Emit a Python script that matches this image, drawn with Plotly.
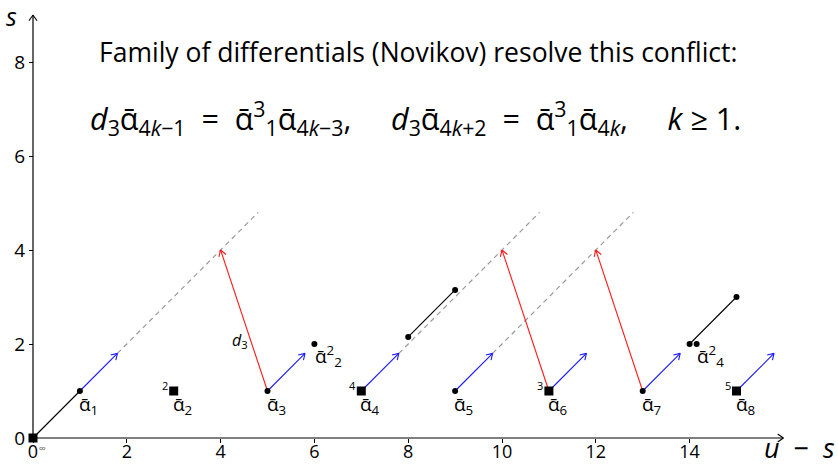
import math
import plotly.graph_objects as go

# ---------------- data ----------------
alpha_x = [1, 3, 5, 7, 9, 11, 13, 15]
alpha_s = [1, 1, 1, 1, 1, 1, 1, 1]
alpha_kind = ["dot", "square", "dot", "square", "dot", "square", "dot", "square"]
alpha_mult = ["", "2", "", "4", "", "3", "", "5"]
alpha_names = ["1", "2", "3", "4", "5", "6", "7", "8"]

origin_x, origin_s = [0], [0]

extra_x = [6, 8, 9, 14, 14.15, 15]
extra_s = [2, 2.15, 3.15, 2, 2, 3]

black_from_x = [0, 8, 14]
black_from_s = [0, 2.15, 2]
black_to_x = [1, 9, 15]
black_to_s = [1, 3.15, 3]

blue_from_x = [1, 5, 7, 9, 11, 13, 15]
blue_from_s = [1, 1, 1, 1, 1, 1, 1]
blue_to_x = [1.8, 5.8, 7.8, 9.8, 11.8, 13.8, 15.8]
blue_to_s = [1.8, 1.8, 1.8, 1.8, 1.8, 1.8, 1.8]

red_from_x = [5, 11, 13]
red_from_s = [1, 1, 1]
red_to_x = [4, 10, 12]
red_to_s = [4, 4, 4]

dash_from_x = [1.8, 7.8, 9.8]
dash_from_s = [1.8, 1.8, 1.8]
dash_to_x = [4.8, 10.8, 12.8]
dash_to_s = [4.8, 4.8, 4.8]

x_ticks = [0, 2, 4, 6, 8, 10, 12, 14]
y_ticks = [0, 2, 4, 6, 8]
x_axis_end = 16
y_axis_end = 9

# ---------------- layout geometry ----------------
W, H = 838, 465
PX_X, PX_Y = 46.9, 47.0
X0_PX, Y0_PX = 33, 438
x_range = [-X0_PX / PX_X, (W - X0_PX) / PX_X]
y_range = [-(H - Y0_PX) / PX_Y, Y0_PX / PX_Y]

FONT = "'Open Sans', 'Noto Sans', 'DejaVu Sans', sans-serif"
ABAR = "ᾱ"

fig = go.Figure()


def seg_trace(fx, fs, tx, ts, color, dash="solid", width=1.1):
    xs, ys = [], []
    for a, b, c, d in zip(fx, fs, tx, ts):
        xs += [a, c, None]
        ys += [b, d, None]
    fig.add_trace(go.Scatter(x=xs, y=ys, mode="lines", hoverinfo="skip",
                             line=dict(color=color, width=width, dash=dash),
                             showlegend=False))


def heads_trace(fx, fs, tx, ts, color, L=7.0, ang=32, width=1.1):
    xs, ys = [], []
    for a, b, c, d in zip(fx, fs, tx, ts):
        dxp = (c - a) * PX_X
        dyp = (d - b) * PX_Y
        th = math.atan2(dyp, dxp)
        for sgn in (1, -1):
            t2 = th + math.pi - sgn * math.radians(ang)
            xs += [c + L * math.cos(t2) / PX_X, c, None]
            ys += [d + L * math.sin(t2) / PX_Y, d, None]
    fig.add_trace(go.Scatter(x=xs, y=ys, mode="lines", hoverinfo="skip",
                             line=dict(color=color, width=width),
                             showlegend=False))


# axes
seg_trace([0, 0], [0, 0], [x_axis_end, 0], [0, y_axis_end], "black", width=1.2)
heads_trace([0, 0], [0, 0], [x_axis_end, 0], [0, y_axis_end], "black", L=7, ang=35)

# dashed lines
seg_trace(dash_from_x, dash_from_s, dash_to_x, dash_to_s, "#999999", dash="5px,4px", width=1.2)
# black lines
seg_trace(black_from_x, black_from_s, black_to_x, black_to_s, "black", width=1.1)
# blue arrows
seg_trace(blue_from_x, blue_from_s, blue_to_x, blue_to_s, "#1a1aff", width=1.1)
heads_trace(blue_from_x, blue_from_s, blue_to_x, blue_to_s, "#1a1aff")
# red arrows
seg_trace(red_from_x, red_from_s, red_to_x, red_to_s, "#ff1a1a", width=1.1)
heads_trace(red_from_x, red_from_s, red_to_x, red_to_s, "#ff1a1a")

# markers
dots_x = [x for x, k in zip(alpha_x, alpha_kind) if k == "dot"] + extra_x
dots_s = [s for s, k in zip(alpha_s, alpha_kind) if k == "dot"] + extra_s
sq_x = [x for x, k in zip(alpha_x, alpha_kind) if k == "square"] + origin_x
sq_s = [s for s, k in zip(alpha_s, alpha_kind) if k == "square"] + origin_s
fig.add_trace(go.Scatter(x=dots_x, y=dots_s, mode="markers", hoverinfo="skip",
                         marker=dict(symbol="circle", size=6, color="black"),
                         showlegend=False, cliponaxis=False))
fig.add_trace(go.Scatter(x=sq_x, y=sq_s, mode="markers", hoverinfo="skip",
                         marker=dict(symbol="square", size=9, color="black"),
                         showlegend=False, cliponaxis=False))

ann = []
# class labels
for x, s, n, m in zip(alpha_x, alpha_s, alpha_names, alpha_mult):
    ann.append(dict(x=x - 0.06, y=s + 0.05, xanchor="left", yanchor="top",
                    text="%s<sub>%s</sub>" % (ABAR, n), showarrow=False,
                    font=dict(family=FONT, size=19, color="black")))
    if m:
        ann.append(dict(x=x - 0.19, y=s + 0.11, xanchor="center", yanchor="middle",
                        text=m, showarrow=False,
                        font=dict(family=FONT, size=11, color="black")))
# alpha_2^2 and alpha_4^2
for x, s, n in [(6, 2, "2"), (14.15, 2, "4")]:
    ann.append(dict(x=x - 0.03, y=s + 0.1, xanchor="left", yanchor="top",
                    text="%s<sup>2</sup><sub>%s</sub>" % (ABAR, n), showarrow=False,
                    font=dict(family=FONT, size=19, color="black")))
# infinity
ann.append(dict(x=0.08, y=-0.03, xanchor="left", yanchor="top", text="∞",
                showarrow=False, font=dict(family=FONT, size=10, color="#555")))
# d3 label
ann.append(dict(x=4.42, y=2.08, xanchor="center", yanchor="middle",
                text="<i>d</i><sub>3</sub>", showarrow=False,
                font=dict(family=FONT, size=16, color="black")))
# axis labels
ann.append(dict(x=-0.45, y=8.97, xanchor="center", yanchor="middle",
                text="<i>s</i>", showarrow=False,
                font=dict(family=FONT, size=25, color="black")))
ann.append(dict(x=17.14, y=-0.2, xanchor="right", yanchor="middle",
                text="<i>u</i>  −  <i>s</i>", showarrow=False,
                font=dict(family=FONT, size=27, color="black")))
# text
ann.append(dict(x=1.36, y=8.22, xanchor="left", yanchor="middle",
                text="Family of differentials (Novikov) resolve this conflict:",
                showarrow=False, font=dict(family=FONT, size=26.5, color="black")))
ann.append(dict(x=1.17, y=6.8, xanchor="left", yanchor="middle",
                text=("<i>d</i><sub>3</sub>%s<sub>4<i>k</i>−1</sub>  =  "
                      "%s<sup>3</sup><sub>1</sub>%s<sub>4<i>k</i>−3</sub>,     "
                      "<i>d</i><sub>3</sub>%s<sub>4<i>k</i>+2</sub>  =  "
                      "%s<sup>3</sup><sub>1</sub>%s<sub>4<i>k</i></sub>,     "
                      "<i>k</i> ≥ 1.") % ((ABAR,) * 6),
                showarrow=False, font=dict(family=FONT, size=30.5, color="black")))

fig.update_layout(
    width=W, height=H, margin=dict(l=0, r=0, t=0, b=0, autoexpand=False),
    paper_bgcolor="white", plot_bgcolor="white",
    annotations=ann,
    xaxis=dict(range=x_range, showgrid=False, zeroline=False, showline=False,
               automargin=False, ticklabelstandoff=-7,
               tickvals=x_ticks, ticks="outside", ticklen=4, tickwidth=1,
               tickcolor="black", anchor="free", position=(H - Y0_PX) / H,
               tickfont=dict(family=FONT, size=18, color="black")),
    yaxis=dict(range=y_range, showgrid=False, zeroline=False, showline=False,
               automargin=False,
               tickvals=y_ticks, ticks="outside", ticklen=4, tickwidth=1,
               tickcolor="black", anchor="free", position=X0_PX / W,
               tickfont=dict(family=FONT, size=19, color="black")),
)

fig.write_html("out.html")
